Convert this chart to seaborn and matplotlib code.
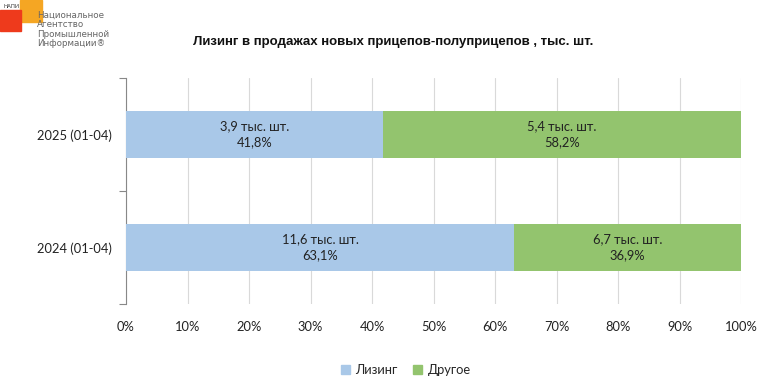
import matplotlib
matplotlib.use("Agg")
import matplotlib.pyplot as plt
import seaborn as sns
import pandas as pd
from matplotlib.patches import Rectangle, Patch

categories = ["2025 (01-04)", "2024 (01-04)"]
leasing_pct = [41.8, 63.1]
other_pct = [58.2, 36.9]
leasing_k = ["3,9", "11,6"]
other_k = ["5,4", "6,7"]
ticks = list(range(0, 101, 10))
title = "Лизинг в продажах новых прицепов-полуприцепов , тыс. шт."

c_lease = "#A9C8E8"
c_other = "#93C46E"

sns.set_theme(style="white")
plt.rcParams['font.family'] = ['Lato', 'DejaVu Sans']

df = pd.DataFrame({"cat": categories, "lease": leasing_pct,
                   "total": [a + b for a, b in zip(leasing_pct, other_pct)]})

fig = plt.figure(figsize=(7.67, 3.82), dpi=100)
ax = fig.add_axes([126/767, 1-304/382, (741-126)/767, (304-78)/382])

sns.barplot(data=df, y="cat", x="total", color=c_other, width=0.41, ax=ax,
            orient="h", saturation=1, zorder=2, linewidth=0)
sns.barplot(data=df, y="cat", x="lease", color=c_lease, width=0.41, ax=ax,
            orient="h", saturation=1, zorder=3, linewidth=0)

for i in range(len(categories)):
    lp, op = leasing_pct[i], other_pct[i]
    ax.text(lp/2, i, f"{leasing_k[i]} тыс. шт.\n{str(lp).replace('.', ',')}%",
            ha="center", va="center", fontsize=9.3, color="#222222", zorder=5, linespacing=1.4)
    ax.text(lp + op/2, i, f"{other_k[i]} тыс. шт.\n{str(op).replace('.', ',')}%",
            ha="center", va="center", fontsize=9.3, color="#222222", zorder=5, linespacing=1.4)

ax.set_xlim(0, 100)
ax.set_ylim(1.5, -0.5)
ax.set_xticks(ticks)
ax.set_xticklabels([f"{t}%" for t in ticks], fontsize=9.3, color="#222222")
ax.tick_params(axis="x", length=0, pad=12)
ax.set_yticks(range(len(categories)))
ax.set_yticklabels(categories, fontsize=9.3, color="#222222")
ax.tick_params(axis="y", which="major", length=0, pad=10)
ax.set_yticks([-0.5, 0.5, 1.5], minor=True)
ax.tick_params(axis="y", which="minor", length=5, color="#888888", width=0.8, left=True)
ax.set_xlabel("")
ax.set_ylabel("")
ax.grid(axis="x", color="#D9D9D9", linewidth=0.8, zorder=0)
ax.set_axisbelow(True)
for s in ["top", "right", "bottom"]:
    ax.spines[s].set_visible(False)
ax.spines["left"].set_color("#888888")
ax.spines["left"].set_linewidth(0.8)

fig.text(393/767, 1-42/382, title, ha="center", va="center", fontsize=9.5,
         fontweight="bold", family=["Liberation Sans", "DejaVu Sans"], color="#111111")

handles = [Patch(color=c_lease, label="Лизинг"), Patch(color=c_other, label="Другое")]
fig.legend(handles=handles, loc="center", bbox_to_anchor=(406/767, 1-370/382), ncol=2,
           frameon=False, fontsize=9.3, handlelength=0.7, handleheight=0.7,
           handletextpad=0.4, columnspacing=1.2)

# logo
fig.patches.append(Rectangle((20/767, 1-22/382), 22/767, 22/382, transform=fig.transFigure,
                             color="#F5A623", zorder=1))
fig.patches.append(Rectangle((0, 1-31/382), 21/767, 21/382, transform=fig.transFigure,
                             color="#EE3A1C", zorder=2))
fig.text(4/767, 1-7/382, "НАПИ", fontsize=4, color="#333333", va="center", ha="left")
fig.text(37/767, 1-11/382, "Национальное\nАгентство\nПромышленной\nИнформации®", fontsize=6.3,
         color="#666666", va="top", ha="left", linespacing=1.05,
         family=["Liberation Sans Narrow", "DejaVu Sans"])

fig.savefig("out.png", dpi=100)
